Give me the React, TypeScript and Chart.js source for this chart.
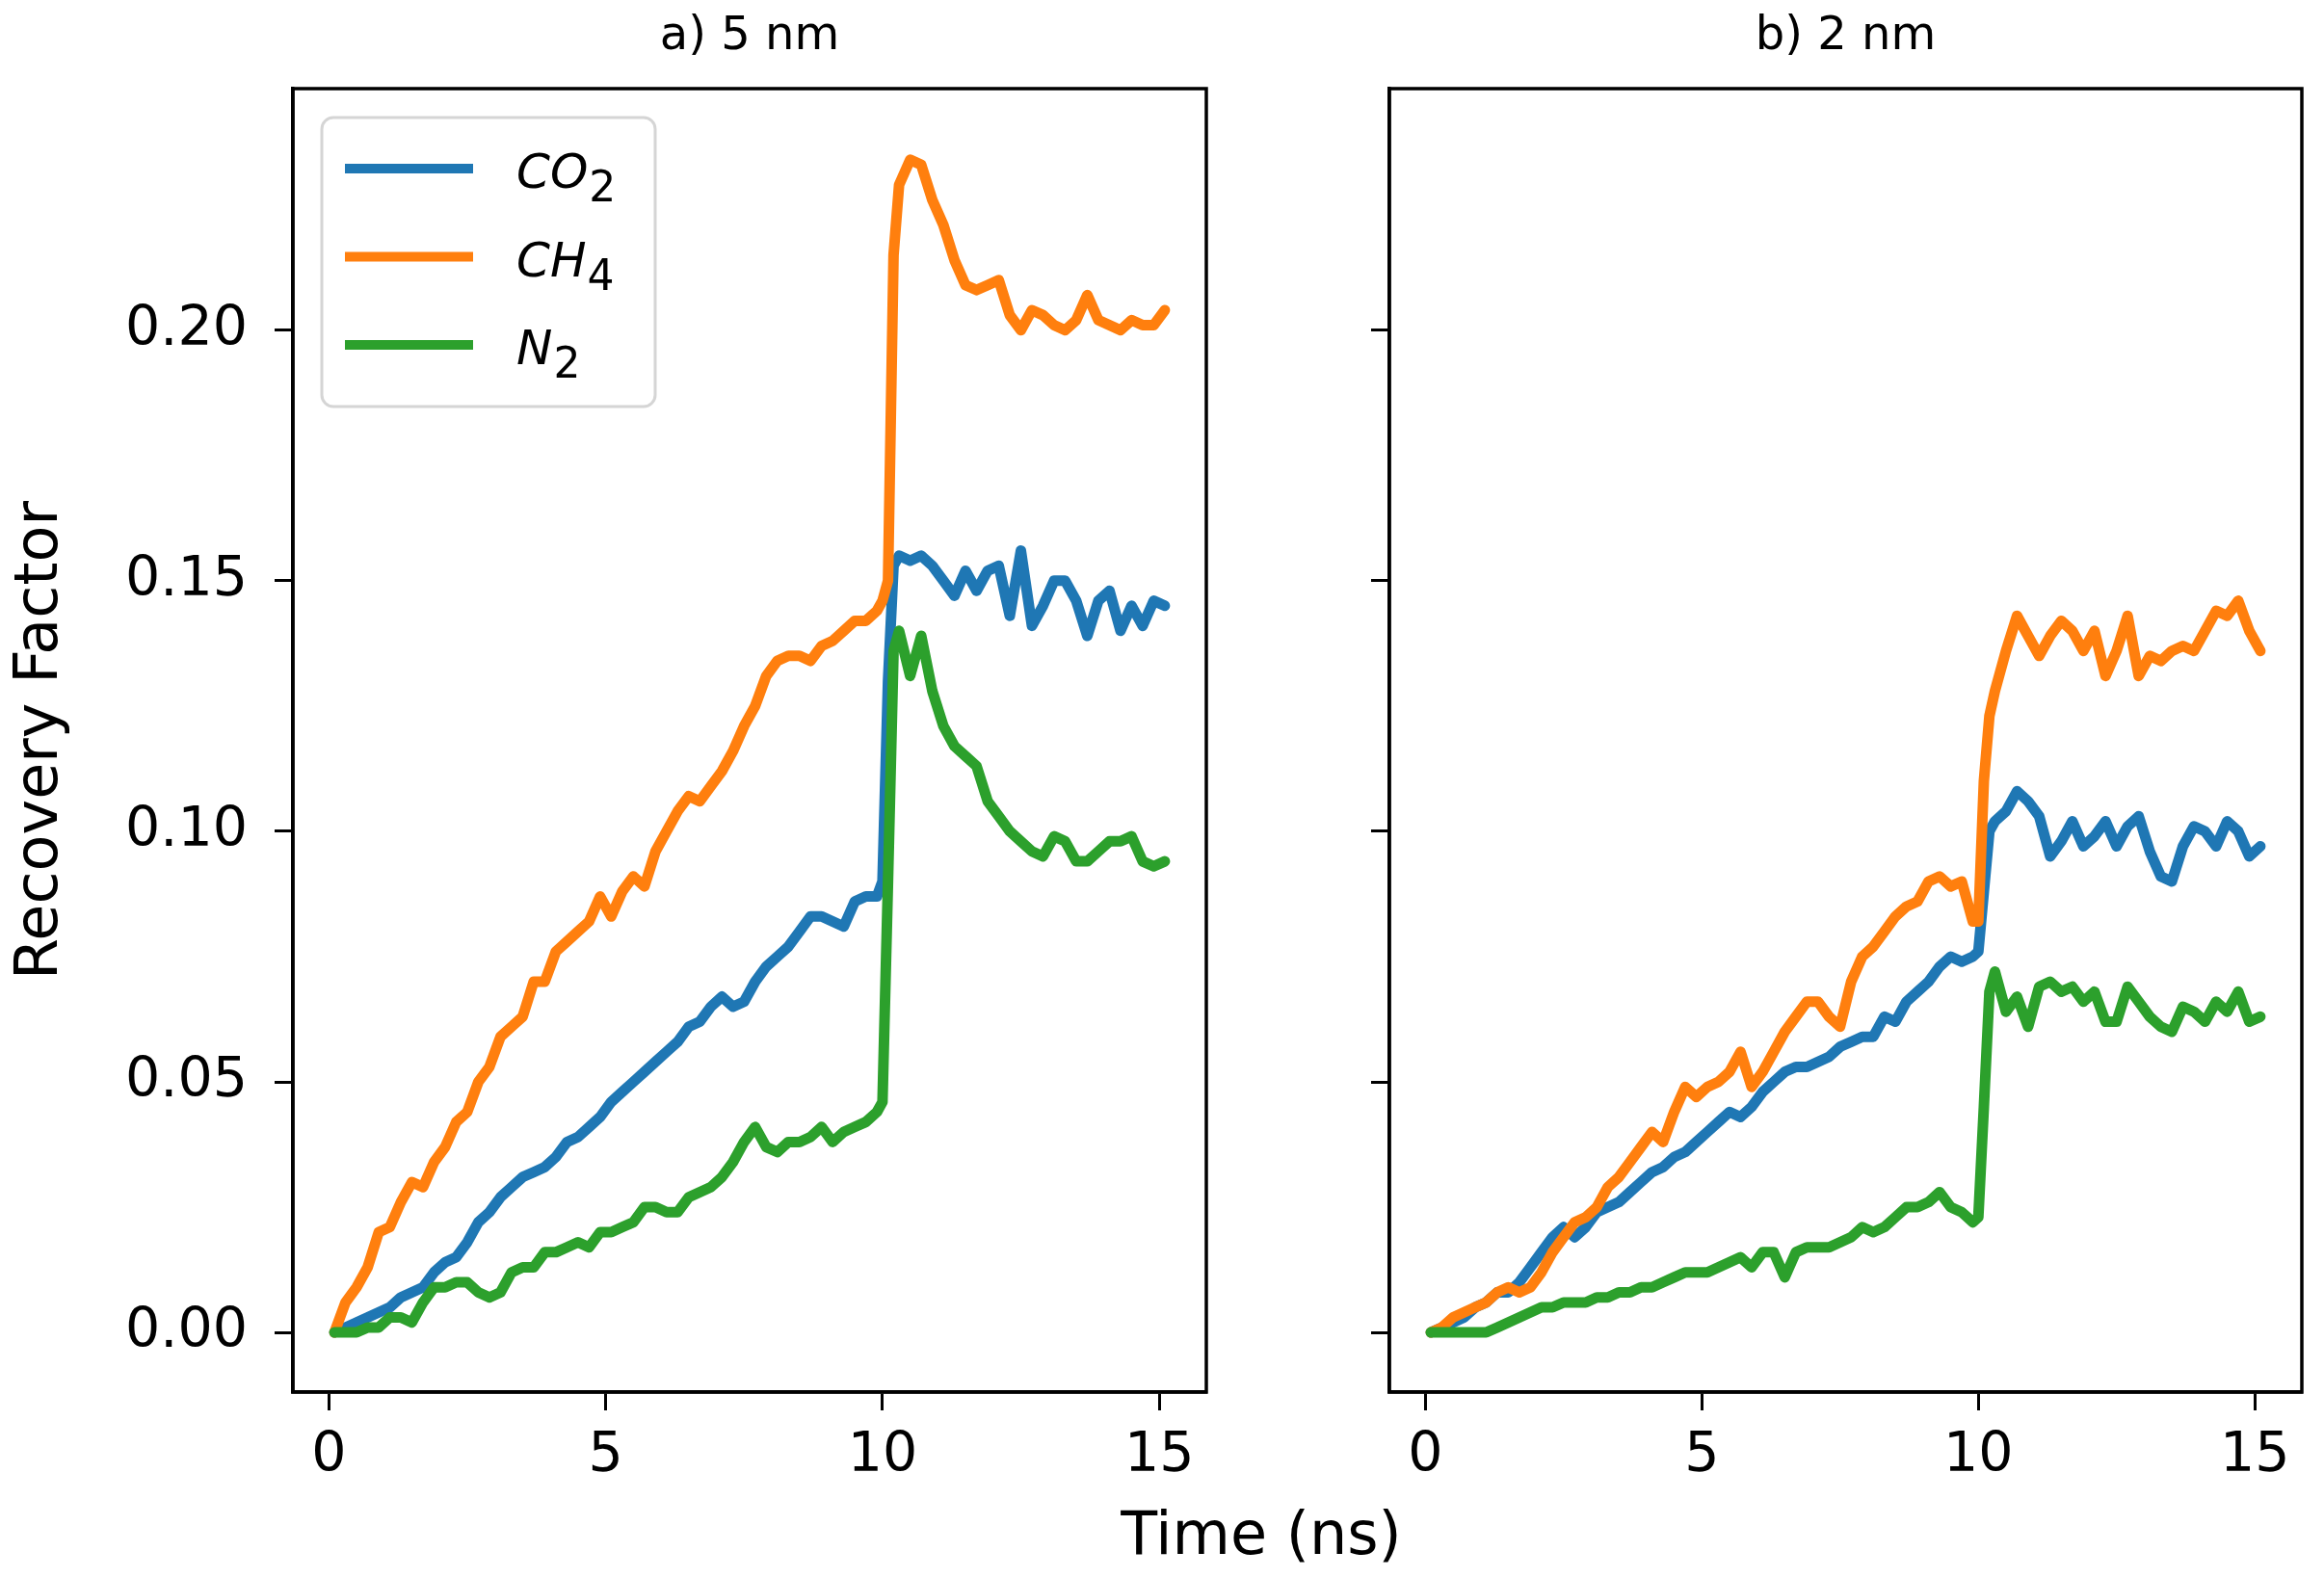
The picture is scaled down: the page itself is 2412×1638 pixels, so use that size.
import { useEffect, useRef } from 'react'
import { Chart, registerables } from 'chart.js'
Chart.register(...registerables)

const FONT = "'DejaVu Sans', sans-serif"
Chart.defaults.font.family = FONT
Chart.defaults.color = '#000'

// time axis (ns), shared by both panels
const timeNs = [
  0.1, 0.3, 0.5, 0.7, 0.9, 1.1, 1.3, 1.5, 1.7, 1.9,
  2.1, 2.3, 2.5, 2.7, 2.9, 3.1, 3.3, 3.5, 3.7, 3.9,
  4.1, 4.3, 4.5, 4.7, 4.9, 5.1, 5.3, 5.5, 5.7, 5.9,
  6.1, 6.3, 6.5, 6.7, 6.9, 7.1, 7.3, 7.5, 7.7, 7.9,
  8.1, 8.3, 8.5, 8.7, 8.9, 9.1, 9.3, 9.5, 9.7, 9.9,
  10.0, 10.1, 10.2, 10.3,
  10.5, 10.7, 10.9, 11.1, 11.3, 11.5, 11.7, 11.9, 12.1, 12.3,
  12.5, 12.7, 12.9, 13.1, 13.3, 13.5, 13.7, 13.9, 14.1, 14.3,
  14.5, 14.7, 14.9, 15.1,
]

// a) 5 nm
const co2A = [
  0.000, 0.001, 0.002, 0.003, 0.004, 0.005, 0.007, 0.008, 0.009, 0.012,
  0.014, 0.015, 0.018, 0.022, 0.024, 0.027, 0.029, 0.031, 0.032, 0.033,
  0.035, 0.038, 0.039, 0.041, 0.043, 0.046, 0.048, 0.050, 0.052, 0.054,
  0.056, 0.058, 0.061, 0.062, 0.065, 0.067, 0.065, 0.066, 0.070, 0.073,
  0.075, 0.077, 0.080, 0.083, 0.083, 0.082, 0.081, 0.086, 0.087, 0.087,
  0.090, 0.130, 0.153, 0.155,
  0.154, 0.155, 0.153, 0.150, 0.147, 0.152, 0.148, 0.152, 0.153, 0.143,
  0.156, 0.141, 0.145, 0.150, 0.150, 0.146, 0.139, 0.146, 0.148, 0.140,
  0.145, 0.141, 0.146, 0.145,
]
const ch4A = [
  0.000, 0.006, 0.009, 0.013, 0.020, 0.021, 0.026, 0.030, 0.029, 0.034,
  0.037, 0.042, 0.044, 0.050, 0.053, 0.059, 0.061, 0.063, 0.070, 0.070,
  0.076, 0.078, 0.080, 0.082, 0.087, 0.083, 0.088, 0.091, 0.089, 0.096,
  0.100, 0.104, 0.107, 0.106, 0.109, 0.112, 0.116, 0.121, 0.125, 0.131,
  0.134, 0.135, 0.135, 0.134, 0.137, 0.138, 0.140, 0.142, 0.142, 0.144,
  0.146, 0.150, 0.215, 0.229,
  0.234, 0.233, 0.226, 0.221, 0.214, 0.209, 0.208, 0.209, 0.210, 0.203,
  0.200, 0.204, 0.203, 0.201, 0.200, 0.202, 0.207, 0.202, 0.201, 0.200,
  0.202, 0.201, 0.201, 0.204,
]
const n2A = [
  0.000, 0.000, 0.000, 0.001, 0.001, 0.003, 0.003, 0.002, 0.006, 0.009,
  0.009, 0.010, 0.010, 0.008, 0.007, 0.008, 0.012, 0.013, 0.013, 0.016,
  0.016, 0.017, 0.018, 0.017, 0.020, 0.020, 0.021, 0.022, 0.025, 0.025,
  0.024, 0.024, 0.027, 0.028, 0.029, 0.031, 0.034, 0.038, 0.041, 0.037,
  0.036, 0.038, 0.038, 0.039, 0.041, 0.038, 0.040, 0.041, 0.042, 0.044,
  0.046, 0.090, 0.136, 0.140,
  0.131, 0.139, 0.128, 0.121, 0.117, 0.115, 0.113, 0.106, 0.103, 0.100,
  0.098, 0.096, 0.095, 0.099, 0.098, 0.094, 0.094, 0.096, 0.098, 0.098,
  0.099, 0.094, 0.093, 0.094,
]

// b) 2 nm
const co2B = [
  0.000, 0.001, 0.002, 0.003, 0.005, 0.006, 0.008, 0.008, 0.010, 0.013,
  0.016, 0.019, 0.021, 0.019, 0.021, 0.024, 0.025, 0.026, 0.028, 0.030,
  0.032, 0.033, 0.035, 0.036, 0.038, 0.040, 0.042, 0.044, 0.043, 0.045,
  0.048, 0.050, 0.052, 0.053, 0.053, 0.054, 0.055, 0.057, 0.058, 0.059,
  0.059, 0.063, 0.062, 0.066, 0.068, 0.070, 0.073, 0.075, 0.074, 0.075,
  0.076, 0.088, 0.100, 0.102,
  0.104, 0.108, 0.106, 0.103, 0.095, 0.098, 0.102, 0.097, 0.099, 0.102,
  0.097, 0.101, 0.103, 0.096, 0.091, 0.090, 0.097, 0.101, 0.100, 0.097,
  0.102, 0.100, 0.095, 0.097,
]
const ch4B = [
  0.000, 0.001, 0.003, 0.004, 0.005, 0.006, 0.008, 0.009, 0.008, 0.009,
  0.012, 0.016, 0.019, 0.022, 0.023, 0.025, 0.029, 0.031, 0.034, 0.037,
  0.040, 0.038, 0.044, 0.049, 0.047, 0.049, 0.050, 0.052, 0.056, 0.049,
  0.052, 0.056, 0.060, 0.063, 0.066, 0.066, 0.063, 0.061, 0.070, 0.075,
  0.077, 0.080, 0.083, 0.085, 0.086, 0.090, 0.091, 0.089, 0.090, 0.082,
  0.082, 0.110, 0.123, 0.128,
  0.136, 0.143, 0.139, 0.135, 0.139, 0.142, 0.140, 0.136, 0.140, 0.131,
  0.136, 0.143, 0.131, 0.135, 0.134, 0.136, 0.137, 0.136, 0.140, 0.144,
  0.143, 0.146, 0.140, 0.136,
]
const n2B = [
  0.000, 0.000, 0.000, 0.000, 0.000, 0.000, 0.001, 0.002, 0.003, 0.004,
  0.005, 0.005, 0.006, 0.006, 0.006, 0.007, 0.007, 0.008, 0.008, 0.009,
  0.009, 0.010, 0.011, 0.012, 0.012, 0.012, 0.013, 0.014, 0.015, 0.013,
  0.016, 0.016, 0.011, 0.016, 0.017, 0.017, 0.017, 0.018, 0.019, 0.021,
  0.020, 0.021, 0.023, 0.025, 0.025, 0.026, 0.028, 0.025, 0.024, 0.022,
  0.023, 0.045, 0.068, 0.072,
  0.064, 0.067, 0.061, 0.069, 0.070, 0.068, 0.069, 0.066, 0.068, 0.062,
  0.062, 0.069, 0.066, 0.063, 0.061, 0.060, 0.065, 0.064, 0.062, 0.066,
  0.064, 0.068, 0.062, 0.063,
]

const xTicks = [0, 5, 10, 15]
const yTicks = [0, 0.05, 0.1, 0.15, 0.2]
const gasNames = ['CO', 'CH', 'N']
const gasSubs = ['2', '4', '2']
const gasColors = ['#1f77b4', '#ff7f0e', '#2ca02c']

// spines on all four sides, like matplotlib
const framePlugin = {
  id: 'frame',
  afterDraw(chart: any) {
    const { ctx, chartArea: a } = chart
    ctx.save()
    ctx.strokeStyle = '#000'
    ctx.lineWidth = 3.5
    ctx.strokeRect(a.left, a.top, a.right - a.left, a.bottom - a.top)
    ctx.restore()
  },
}

// legend with subscripts (CO2, CH4, N2)
const gasLegendPlugin = {
  id: 'gasLegend',
  afterDraw(chart: any) {
    const { ctx, chartArea: a } = chart
    const bx = a.left + 30, by = a.top + 30, bw = 346, bh = 300
    ctx.save()
    ctx.fillStyle = 'rgba(255,255,255,0.85)'
    ctx.strokeStyle = '#d5d5d5'
    ctx.lineWidth = 3
    ctx.beginPath()
    ctx.roundRect(bx, by, bw, bh, 12)
    ctx.fill()
    ctx.stroke()
    chart.data.datasets.forEach((ds: any, i: number) => {
      const ry = a.top + 83 + i * 91.5
      ctx.strokeStyle = ds.borderColor
      ctx.lineWidth = 10
      ctx.lineCap = 'butt'
      ctx.beginPath()
      ctx.moveTo(bx + 24, ry)
      ctx.lineTo(bx + 157, ry)
      ctx.stroke()
      ctx.fillStyle = '#000'
      ctx.textBaseline = 'alphabetic'
      ctx.textAlign = 'left'
      ctx.font = `italic 50px ${FONT}`
      const tx = bx + 202
      ctx.fillText(gasNames[i], tx, ry + 20)
      const w = ctx.measureText(gasNames[i]).width
      ctx.font = `44px ${FONT}`
      ctx.fillText(gasSubs[i], tx + w + 1, ry + 34)
    })
    ctx.restore()
  },
}

interface PanelProps {
  title: string
  values: number[][]
  left: number
  width: number
  yAxisWidth: number
  padRight: number
  showYLabels: boolean
  showLegend: boolean
}

function Panel({ title, values, left, width, yAxisWidth, padRight, showYLabels, showLegend }: PanelProps) {
  const ref = useRef<HTMLCanvasElement>(null)

  useEffect(() => {
    if (!ref.current) return
    const tickGrid = {
      display: true, drawOnChartArea: false, drawTicks: true,
      tickLength: 19, tickWidth: 3, color: '#000',
    }
    const chart = new Chart(ref.current, {
      type: 'line',
      data: {
        datasets: values.map((vals, i) => ({
          label: gasNames[i] + gasSubs[i],
          data: timeNs.map((t, k) => ({ x: t, y: vals[k] })),
          borderColor: gasColors[i],
          backgroundColor: gasColors[i],
          borderWidth: 11,
          pointRadius: 0,
          tension: 0,
          fill: false,
          borderJoinStyle: 'round' as const,
          borderCapStyle: 'round' as const,
          order: 3 - i,
        })),
      },
      options: {
        responsive: true, maintainAspectRatio: false, animation: false,
        layout: { padding: { top: 0, right: padRight, bottom: 0, left: 0 } },
        plugins: {
          legend: { display: false },
          tooltip: { enabled: false },
          title: {
            display: true, text: title, fullSize: false, color: '#000',
            font: { family: FONT, size: 48, weight: 'normal' },
            padding: { top: 10, bottom: 24.4 },
          },
        },
        scales: {
          x: {
            type: 'linear', min: -0.65, max: 15.85,
            afterBuildTicks: (s: any) => { s.ticks = xTicks.map(v => ({ value: v })) },
            afterFit: (s: any) => { s.height = 193 },
            grid: tickGrid,
            border: { display: true, color: '#000', width: 3.5 },
            ticks: {
              font: { family: FONT, size: 57 }, color: '#000', padding: 14,
              maxRotation: 0, autoSkip: false, callback: (v: any) => String(v),
            },
          },
          y: {
            type: 'linear', min: -0.0119, max: 0.2482,
            afterBuildTicks: (s: any) => { s.ticks = yTicks.map(v => ({ value: v })) },
            afterFit: (s: any) => { s.width = yAxisWidth },
            grid: tickGrid,
            border: { display: true, color: '#000', width: 3.5 },
            ticks: {
              display: showYLabels,
              font: { family: FONT, size: 57 }, color: '#000', padding: 28,
              autoSkip: false, callback: (v: any) => Number(v).toFixed(2),
            },
            title: {
              display: showYLabels, text: 'Recovery Factor', color: '#000',
              font: { family: FONT, size: 62 }, padding: { top: 6, bottom: 0 },
            },
          },
        },
      },
      plugins: showLegend ? [framePlugin, gasLegendPlugin] : [framePlugin],
    })
    return () => chart.destroy()
  }, [])

  return (
    <div style={{ position: 'absolute', left, top: 0, width, height: 1638 }}>
      <canvas ref={ref} />
    </div>
  )
}

export default function App() {
  return (
    <div style={{ position: 'absolute', left: 0, top: 0, width: 2412, height: 1638, background: '#fff', overflow: 'hidden' }}>
      <Panel title="a) 5 nm" values={[co2A, ch4A, n2A]} left={0} width={1290}
        yAxisWidth={304} padRight={38} showYLabels showLegend />
      <Panel title="b) 2 nm" values={[co2B, ch4B, n2B]} left={1290} width={1122}
        yAxisWidth={152} padRight={23} showYLabels={false} showLegend={false} />
      <div style={{
        position: 'absolute', left: 1309, top: 1555, transform: 'translateX(-50%)',
        fontFamily: FONT, fontSize: 62, lineHeight: '74px', color: '#000', whiteSpace: 'nowrap',
      }}>Time (ns)</div>
    </div>
  )
}
